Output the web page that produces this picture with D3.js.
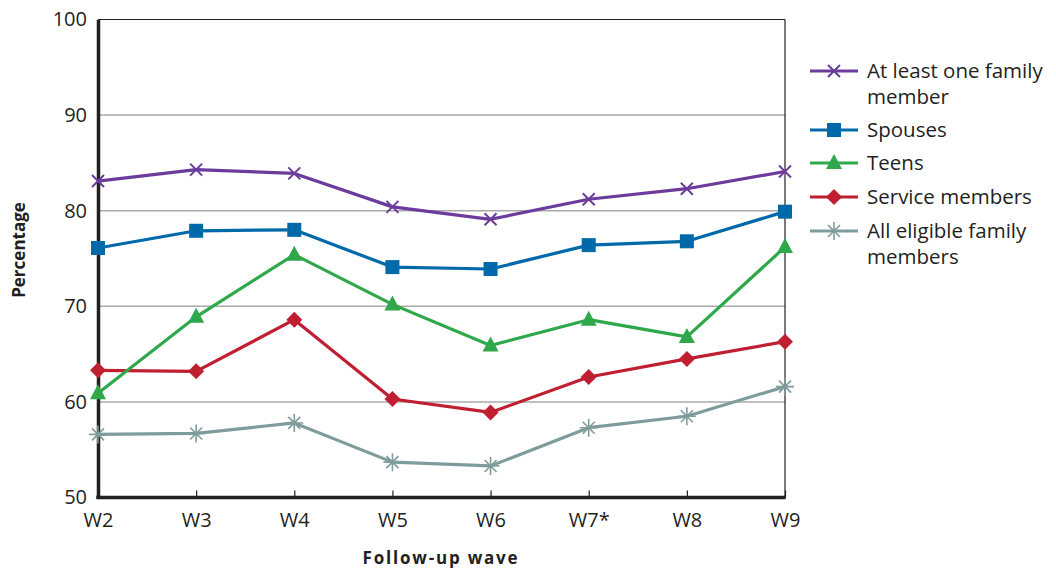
<!DOCTYPE html>
<html><head><meta charset="utf-8">
<script src="https://cdn.jsdelivr.net/npm/d3@7"></script>
<style>body{margin:0;background:#fff}svg{display:block}text{font-family:"Open Sans",sans-serif;fill:#231f20}</style>
</head><body><svg id="c" width="1056" height="569"></svg>
<script>
const waves = ["W2","W3","W4","W5","W6","W7*","W8","W9"];
const yTicks = [50,60,70,80,90,100];
const atLeastOne = [83.1,84.3,83.9,80.4,79.1,81.2,82.3,84.1];
const spouses = [76.1,77.9,78.0,74.1,73.9,76.4,76.8,79.9];
const teens = [60.9,68.9,75.4,70.2,65.9,68.6,66.8,76.2];
const serviceMembers = [63.3,63.2,68.6,60.3,58.9,62.6,64.5,66.3];
const allEligible = [56.6,56.7,57.8,53.7,53.3,57.3,58.5,61.6];
const seriesNames = [["At least one family","member"],["Spouses"],["Teens"],["Service members"],["All eligible family","members"]];
const colors = ["#6b3c9b","#0069a9","#2ea84a","#c01f32","#7f9c9c"];
const markers = ["x","square","triangle","diamond","asterisk"];
const series = [atLeastOne,spouses,teens,serviceMembers,allEligible];

const svg = d3.select("#c");
const L=98,R=785,T=19.5,B=497.5;
const x = d3.scalePoint().domain(waves).range([L,R]).padding(0);
const y = d3.scaleLinear().domain([50,100]).range([B,T]);

// grid
svg.append("g").selectAll("line").data([60,70,80,90]).join("line")
 .attr("x1",L).attr("x2",R).attr("y1",d=>y(d)).attr("y2",d=>y(d))
 .attr("stroke","#aaaaaa").attr("stroke-width",1.5);
// frame top & right
svg.append("line").attr("x1",L).attr("x2",R).attr("y1",y(100)).attr("y2",y(100)).attr("stroke","#231f20").attr("stroke-width",1.2);
svg.append("line").attr("x1",R).attr("x2",R).attr("y1",y(100)).attr("y2",B).attr("stroke","#231f20").attr("stroke-width",1.2);

// axes
const yAx = svg.append("g").attr("transform",`translate(${L},0)`).call(d3.axisLeft(y).tickValues(yTicks).tickSize(0).tickPadding(11));
yAx.select(".domain").attr("stroke","#231f20").attr("stroke-width",3.5);
yAx.selectAll("text").attr("font-size",20).attr("fill","#231f20").attr("font-family","Open Sans");
const xAx = svg.append("g").attr("transform",`translate(0,${B})`).call(d3.axisBottom(x).tickSize(-7).tickPadding(15));
xAx.select(".domain").attr("stroke","#231f20").attr("stroke-width",3.5).attr("d",`M${L-1.75},0H${R+0.6}`);
xAx.selectAll(".tick line").attr("stroke","#231f20").attr("stroke-width",1.2);
xAx.selectAll("text").attr("font-size",20).attr("fill","#231f20").attr("font-family","Open Sans");

svg.append("text").attr("transform","translate(25,250) rotate(-90)").attr("text-anchor","middle")
 .attr("font-size",17).attr("font-weight","bold").text("Percentage");
svg.append("text").attr("x",441).attr("y",564).attr("text-anchor","middle")
 .attr("font-size",17).attr("font-weight","bold").attr("letter-spacing",1.8).text("Follow-up wave");

function marker(g,type,color){
  if(type==="x"){
    g.append("path").attr("d","M-6,-6L6,6M-6,6L6,-6").attr("stroke",color).attr("stroke-width",2).attr("fill","none");
  } else if(type==="square"){
    g.append("rect").attr("x",-7).attr("y",-7).attr("width",14).attr("height",14).attr("fill",color);
  } else if(type==="triangle"){
    g.append("path").attr("d","M0,-9L8,6H-8Z").attr("fill",color);
  } else if(type==="diamond"){
    g.append("path").attr("d","M0,-8L8,0L0,8L-8,0Z").attr("fill",color);
  } else {
    g.append("path").attr("d","M-9,0H9M0,-9V9M-6,-6L6,6M-6,6L6,-6").attr("stroke",color).attr("stroke-width",1.6).attr("fill","none");
  }
}

const line = d3.line().x((d,i)=>x(waves[i])).y(d=>y(d));
for(let s=series.length-1;s>=0;s--){
  const g = svg.append("g");
  g.append("path").datum(series[s]).attr("d",line).attr("fill","none").attr("stroke",colors[s]).attr("stroke-width",3.2).attr("stroke-linejoin","round");
  series[s].forEach((v,i)=>{ marker(g.append("g").attr("transform",`translate(${x(waves[i])},${y(v)})`),markers[s],colors[s]); });
}

// legend
const legY = [71,130,163,197,231];
seriesNames.forEach((nm,s)=>{
  const g = svg.append("g").attr("transform",`translate(0,${legY[s]})`);
  g.append("line").attr("x1",810).attr("x2",858).attr("stroke",colors[s]).attr("stroke-width",3.2);
  marker(g.append("g").attr("transform","translate(834,0)"),markers[s],colors[s]);
  nm.forEach((t,k)=>g.append("text").attr("x",867).attr("y",7+k*26).attr("font-size",20.5).text(t));
});
</script></body></html>
